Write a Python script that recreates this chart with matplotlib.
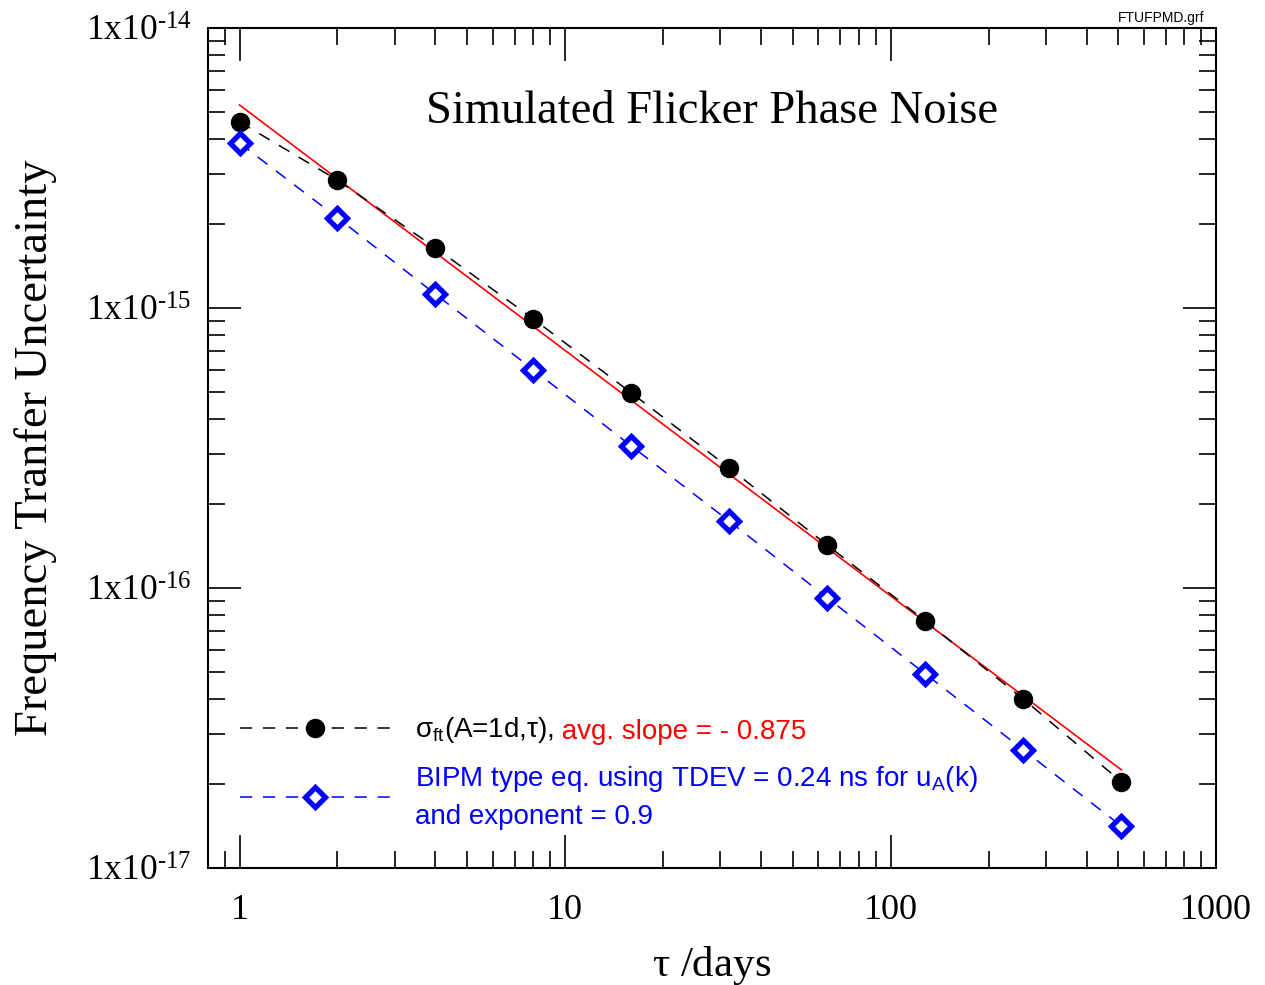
import numpy as np
import matplotlib
matplotlib.use('Agg')
import matplotlib.pyplot as plt
from matplotlib.lines import Line2D
from matplotlib.ticker import LogLocator, FixedLocator, FuncFormatter, NullFormatter

plt.rcParams['font.family'] = ['Liberation Serif', 'DejaVu Serif']
plt.rcParams['mathtext.fontset'] = 'custom'
plt.rcParams['mathtext.rm'] = 'Liberation Serif'
plt.rcParams['mathtext.sf'] = 'Liberation Sans'

# averaging time (days)
tau = [1, 2, 4, 8, 16, 32, 64, 128, 256, 512]
# simulated flicker phase noise, sigma_ft(A=1d, tau)
sigma_ft = [4.62e-15, 2.86e-15, 1.64e-15, 9.13e-16, 4.97e-16,
            2.68e-16, 1.42e-16, 7.62e-17, 4.01e-17, 2.03e-17]
# BIPM type equation, TDEV = 0.24 ns, exponent 0.9
bipm = [3.88e-15, 2.10e-15, 1.12e-15, 6.01e-16, 3.21e-16,
        1.73e-16, 9.21e-17, 4.93e-17, 2.64e-17, 1.41e-17]
# power-law fit, avg slope -0.875
fit_tau = [1, 512]
fit_val = [5.31e-15, 2.24e-17]

sans = ['Liberation Sans', 'DejaVu Sans']
HYPH = '\u2010'


def ylab(v, p):
    return '$\\mathregular{1x10^{%s%d}}$' % (HYPH, -round(np.log10(v)))


fig = plt.figure(figsize=(12.65, 9.85), dpi=100)
ax = fig.add_axes([0.1644, 0.1188, 0.7969, 0.8528])

ax.plot(fit_tau, fit_val, color='red', lw=1.2, zorder=2)
ax.plot(tau, sigma_ft, color='black', lw=1.1, dashes=(8, 7),
        marker='o', ms=13, mfc='black', mec='black', zorder=3)
ax.plot(tau, bipm, color='blue', lw=1.1, dashes=(8, 7),
        marker='D', ms=10, mfc='white', mec='blue', mew=3.8, zorder=3)

ax.set_xscale('log')
ax.set_yscale('log')
ax.set_xlim(0.8, 1000)
ax.set_ylim(1e-17, 1e-14)

ax.xaxis.set_major_locator(FixedLocator([1, 10, 100, 1000]))
ax.xaxis.set_major_formatter(FuncFormatter(lambda v, p: '%g' % v))
ax.xaxis.set_minor_locator(LogLocator(base=10, subs=np.arange(2, 10), numticks=20))
ax.xaxis.set_minor_formatter(NullFormatter())
ax.yaxis.set_major_locator(FixedLocator([1e-17, 1e-16, 1e-15, 1e-14]))
ax.yaxis.set_major_formatter(FuncFormatter(ylab))
ax.yaxis.set_minor_locator(LogLocator(base=10, subs=np.arange(2, 10), numticks=20))
ax.yaxis.set_minor_formatter(NullFormatter())

ax.tick_params(which='both', direction='in', top=True, right=True, width=1.2,
               labelsize=26)
ax.tick_params(axis='y', labelsize=25.5)
ax.tick_params(which='major', length=24)
ax.tick_params(which='minor', length=12)
ax.tick_params(axis='x', pad=19)
ax.tick_params(axis='y', pad=12)
for s in ax.spines.values():
    s.set_linewidth(1.5)

ax.set_xlabel(r'$\mathregular{\tau}$ /days', fontsize=31, labelpad=12)
ax.set_ylabel('Frequency Tranfer Uncertainty', fontsize=33.5)
ax.yaxis.set_label_coords(-0.15, 0.5)
ax.text(0.5, 0.9, 'Simulated Flicker Phase Noise', transform=ax.transAxes,
        ha='center', va='center', fontsize=33.5)

h1 = Line2D([], [], color='black', lw=1.1, dashes=(8, 7), marker='o', ms=13, mfc='black')
h2 = Line2D([], [], color='blue', lw=1.1, dashes=(8, 7), marker='D', ms=10,
            mfc='white', mec='blue', mew=3.8)
leg = ax.legend([h1, h2],
                [r'σ$_{\mathsf{ft}}$(A=1d,τ),',
                 'BIPM type eq. using TDEV = 0.24 ns for u$_{\\mathsf{A}}$(k)\nand exponent = 0.9'],
                loc='lower left', bbox_to_anchor=(0.032, 0.045), frameon=False,
                borderpad=0, borderaxespad=0, numpoints=1, handlelength=5.4,
                handletextpad=0.9, labelspacing=0.68,
                prop={'family': sans, 'size': 20})
txts = leg.get_texts()
txts[1].set_color('blue')
txts[1].set_linespacing(1.5)
ax.annotate(' avg. slope = - 0.875', xy=(1, 0), xycoords=txts[0], va='bottom',
            ha='left', color='red', fontsize=20, family=sans, zorder=10)

fig.text(0.952, 0.982, 'FTUFPMD.grf', ha='right', va='center', fontsize=10,
         family=sans)

fig.savefig('out.png', dpi=100)
